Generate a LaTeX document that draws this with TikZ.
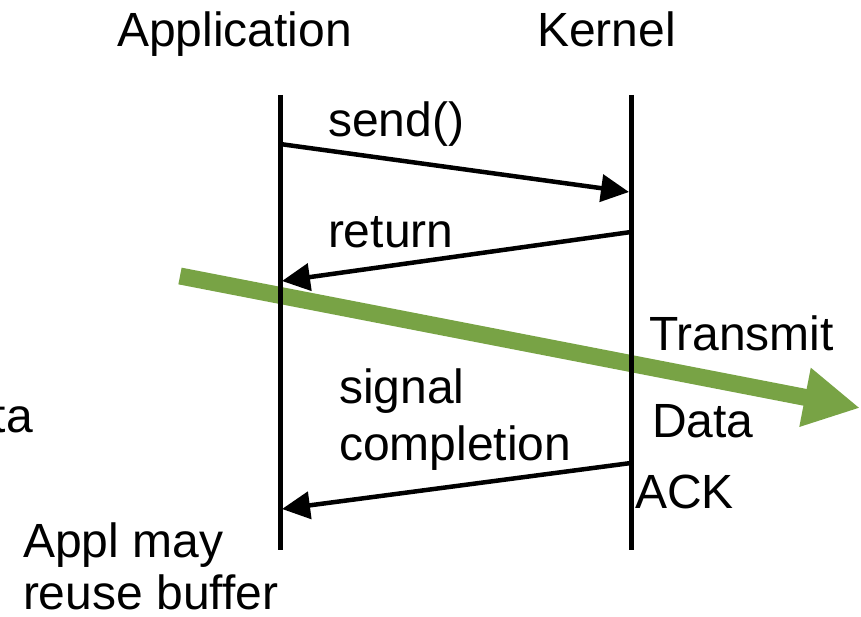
\documentclass[tikz,border=0pt]{standalone}
\usepackage{fontspec}
\setmainfont{Liberation Sans}
\usetikzlibrary{arrows.meta}
\definecolor{arrowgreen}{RGB}{120,163,69}
\tikzset{
  lifeline/.style={line width=5pt},
  msg/.style={line width=4.5pt,-{Triangle[length=28pt,width=27pt]}},
  bigarrow/.style={line width=17pt,arrowgreen,-{Triangle[length=56pt,width=56pt]}},
  lbl/.style={anchor=base west,inner sep=0pt,outer sep=0pt,font=\fontsize{48}{55}\selectfont}
}
\begin{document}
\begin{tikzpicture}[x=1pt,y=-1pt]
\useasboundingbox (0,0) rectangle (861,617);
% coordinates
\coordinate (appTop) at (280,95);
\coordinate (appBot) at (280,550);
\coordinate (kerTop) at (631,95);
\coordinate (kerBot) at (631,550);
\coordinate (sendA) at (280,144);
\coordinate (sendK) at (629,192);
\coordinate (retK) at (631,232);
\coordinate (retA) at (282,281);
\coordinate (sigK) at (631,463);
\coordinate (sigA) at (282,509);
\coordinate (gTail) at (180,276);
\coordinate (gTip) at (860,408);
% green transmit arrow (behind lifelines)
\draw[bigarrow] (gTail) -- (gTip);
% lifelines
\draw[lifeline] (appTop) -- (appBot);
\draw[lifeline] (kerTop) -- (kerBot);
% messages
\draw[msg] (sendA) -- (sendK);
\draw[msg] (retK) -- (retA);
\draw[msg] (sigK) -- (sigA);
% labels
\node[lbl] (tApp) at (117,47) {Application};
\node[lbl] (tKer) at (537,47) {Kernel};
\node[lbl] (tSend) at (328,137) {send()};
\node[lbl] (tRet) at (328,248) {return};
\node[lbl] (tTrans) at (649,350) {Transmit};
\node[lbl] (tData) at (652,437) {Data};
\node[lbl] (tAck) at (635,508) {ACK};
\node[lbl] (tSig1) at (339,403) {signal};
\node[lbl] (tSig2) at (339,460) {completion};
\node[lbl,anchor=base east] (tTa) at (33,432) {ta};
\node[lbl] (tAppl1) at (23,557) {Appl may};
\node[lbl] (tAppl2) at (23,609) {reuse buffer};
\end{tikzpicture}
\end{document}
